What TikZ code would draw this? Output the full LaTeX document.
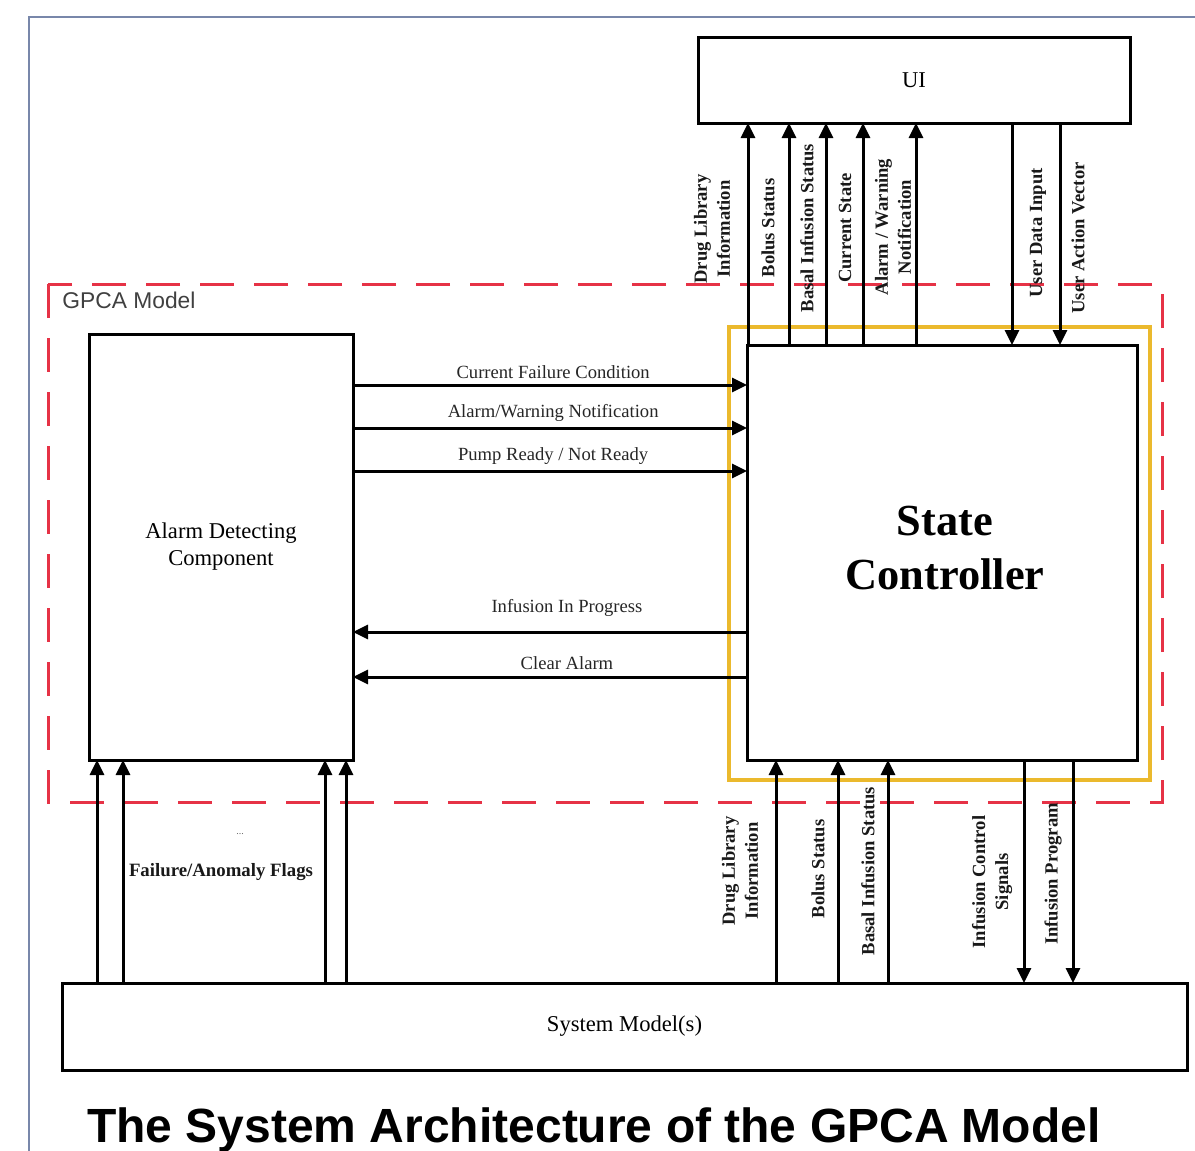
\documentclass[tikz,border=0pt]{standalone}
\usepackage{fontspec}
\setmainfont{Liberation Serif}
\newfontfamily\sansf{Liberation Sans}
\usetikzlibrary{arrows.meta}
\definecolor{frameblue}{RGB}{120,135,170}
\definecolor{gpcared}{RGB}{230,50,70}
\definecolor{ybox}{RGB}{235,185,45}
\begin{document}
\begin{tikzpicture}[x=0.5pt,y=-0.5pt,
  box/.style={draw,line width=1.5pt,inner sep=0pt,outer sep=0pt,align=center,font=\fontsize{11.3}{13.5}\selectfont},
  arr/.style={line width=1.5pt,-{Triangle[width=7pt,length=7.5pt]}},
  lab/.style={font=\fontsize{9.3}{11}\selectfont,text=black!85,inner sep=0pt},
  vlab/.style={rotate=90,align=center,font=\bfseries\fontsize{9.3}{11.5}\selectfont,inner sep=0pt,text=black!90},
]
\useasboundingbox (0,0) rectangle (1195,1151);
% outer frame
\draw[frameblue,line width=1pt] (29,1151) -- (29,17) -- (1195,17);
% GPCA model region
\draw[gpcared,line width=1.5pt,dash pattern=on 17pt off 10pt] (48,284) rectangle (1162,802);
\node[font=\sansf\fontsize{11.4}{13}\selectfont,text=black!75,anchor=west,inner sep=0pt] (gpca) at (62,300) {GPCA Model};
% yellow highlight
\draw[ybox,line width=2.2pt] (729,327) rectangle (1150,780);

% boxes
\node[box,minimum width=216pt,minimum height=43pt] (ui) at (914,80) {UI};
\node[box,minimum width=132pt,minimum height=213pt] (adc) at (221,547) {Alarm Detecting\\Component};
\node[box,minimum width=195pt,minimum height=207.5pt] (sc) at (942,552.5) {};
\node[font=\bfseries\fontsize{22.2}{27}\selectfont,align=center,inner sep=0pt] (sctext) at (945,548) {State\\Controller};
\node[box,minimum width=562.5pt,minimum height=43.5pt] (sys) at (624.5,1026.5) {System Model(s)};

% horizontal connectors
\draw[arr] (adc.east |- 0,385) -- (sc.west |- 0,385) node[lab,pos=0.508,yshift=6.5pt] {Current Failure Condition};
\draw[arr] (adc.east |- 0,428) -- (sc.west |- 0,428) node[lab,pos=0.508,yshift=7.5pt] {Alarm/Warning Notification};
\draw[arr] (adc.east |- 0,471) -- (sc.west |- 0,471) node[lab,pos=0.508,yshift=7.5pt] {Pump Ready / Not Ready};
\draw[arr] (sc.west |- 0,632) -- (adc.east |- 0,632) node[lab,pos=0.457,yshift=12pt] {Infusion In Progress};
\draw[arr] (sc.west |- 0,677) -- (adc.east |- 0,677) node[lab,pos=0.457,yshift=7pt] {Clear Alarm};

% state controller <-> UI
\draw[arr] (748,0 |- sc.north) -- (748,0 |- ui.south);
\draw[arr] (789,0 |- sc.north) -- (789,0 |- ui.south);
\draw[arr] (826,0 |- sc.north) -- (826,0 |- ui.south);
\draw[arr] (863,0 |- sc.north) -- (863,0 |- ui.south);
\draw[arr] (916,0 |- sc.north) -- (916,0 |- ui.south);
\draw[arr] (1012,0 |- ui.south) -- (1012,0 |- sc.north);
\draw[arr] (1060,0 |- ui.south) -- (1060,0 |- sc.north);
\node[vlab] (t1) at (712,229) {Drug Library\\Information};
\node[vlab] (t2) at (768,228) {Bolus Status};
\node[vlab] (t3) at (807,228) {Basal Infusion Status};
\node[vlab] (t4) at (845,228) {Current State};
\node[vlab] (t5) at (893,227) {Alarm / Warning\\Notification};
\node[vlab] (t6) at (1038,233) {User Data Input};
\node[vlab] (t7) at (1078,238) {User Action Vector};

% system <-> state controller
\draw[arr] (776,0 |- sys.north) -- (776,0 |- sc.south);
\draw[arr] (838,0 |- sys.north) -- (838,0 |- sc.south);
\draw[arr] (888,0 |- sys.north) -- (888,0 |- sc.south);
\draw[arr] (1024,0 |- sc.south) -- (1024,0 |- sys.north);
\draw[arr] (1073,0 |- sc.south) -- (1073,0 |- sys.north);
\node[vlab] (b1) at (740,871) {Drug Library\\Information};
\node[vlab] (b2) at (818,869) {Bolus Status};
\node[vlab] (b3) at (868,871) {Basal Infusion Status};
\node[vlab] (b4) at (992,882) {Infusion Control\\Signals};
\node[vlab] (b5) at (1053,874) {Infusion Program};

% system -> alarm detecting component
\draw[arr] (97,0 |- sys.north) -- (97,0 |- adc.south);
\draw[arr] (123,0 |- sys.north) -- (123,0 |- adc.south);
\draw[arr] (325,0 |- sys.north) -- (325,0 |- adc.south);
\draw[arr] (346,0 |- sys.north) -- (346,0 |- adc.south);
\node[font=\fontsize{5}{6}\selectfont,inner sep=0pt,text=black!60] (dots) at (240,834) {...};
\node[font=\bfseries\fontsize{9.4}{11}\selectfont,inner sep=0pt,text=black!90] (flags) at (221,872) {Failure/Anomaly Flags};

% caption
\node[font=\sansf\bfseries\fontsize{24}{28}\selectfont,inner sep=0pt,anchor=base] (title) at (594,1142) {The System Architecture of the GPCA Model};
\end{tikzpicture}
\end{document}
